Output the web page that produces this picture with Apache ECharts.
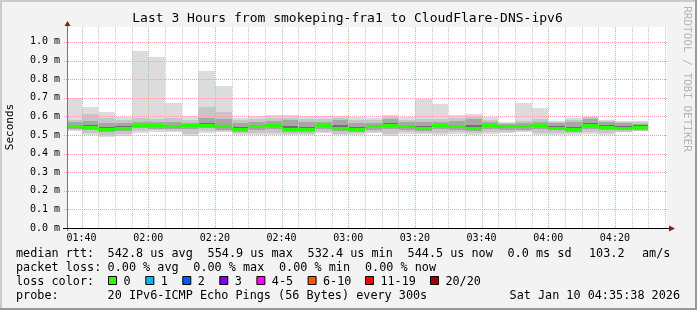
<!DOCTYPE html>
<html><head><meta charset="utf-8">
<script src="https://cdn.jsdelivr.net/npm/echarts@6/dist/echarts.min.js"></script>
<style>html,body{margin:0;padding:0;background:#f3f3f3}#c{width:697px;height:310px}</style>
</head><body><div id="c"></div><script>
// ---- data (values in milliseconds) ----
const bucketEnds = ["01:40","01:45","01:50","01:55","02:00","02:05","02:10","02:15","02:20","02:25",
  "02:30","02:35","02:40","02:45","02:50","02:55","03:00","03:05","03:10","03:15",
  "03:20","03:25","03:30","03:35","03:40","03:45","03:50","03:55","04:00","04:05",
  "04:10","04:15","04:20","04:25","04:30"];
const maxRtt = [0.700,0.652,0.625,0.595,0.953,0.921,0.674,0.600,0.846,0.765,
  0.591,0.600,0.609,0.605,0.600,0.600,0.600,0.595,0.591,0.605,
  0.595,0.695,0.667,0.605,0.614,0.595,0.570,0.674,0.647,0.577,
  0.591,0.598,0.580,0.577,0.574];
const p90 = [0.580,0.610,0.590,0.578,0.591,0.588,0.590,0.582,0.650,0.625,
  0.580,0.586,0.590,0.592,0.588,0.585,0.590,0.580,0.578,0.596,
  0.582,0.585,0.586,0.590,0.598,0.582,0.566,0.575,0.584,0.570,
  0.582,0.594,0.576,0.572,0.568];
const p75 = [0.568,0.576,0.566,0.565,0.572,0.570,0.572,0.566,0.590,0.585,
  0.562,0.570,0.574,0.578,0.570,0.572,0.578,0.562,0.564,0.586,
  0.568,0.570,0.572,0.575,0.585,0.568,0.560,0.565,0.570,0.562,
  0.572,0.588,0.570,0.564,0.560];
const p60 = [0.554,0.556,0.545,0.550,0.560,0.561,0.556,0.558,0.565,0.556,
  0.543,0.554,0.560,0.548,0.545,0.560,0.552,0.544,0.554,0.562,
  0.555,0.550,0.560,0.556,0.552,0.560,0.553,0.554,0.561,0.549,
  0.544,0.565,0.554,0.550,0.552];
const medianRtt = [0.546,0.545,0.534,0.540,0.552,0.552,0.546,0.552,0.555,0.546,
  0.534,0.546,0.552,0.534,0.533,0.552,0.540,0.534,0.546,0.552,
  0.546,0.540,0.552,0.546,0.540,0.552,0.546,0.546,0.553,0.540,
  0.534,0.552,0.545,0.540,0.5445];
const p40 = [0.538,0.537,0.527,0.533,0.545,0.545,0.539,0.545,0.548,0.538,
  0.527,0.538,0.544,0.526,0.525,0.544,0.532,0.527,0.538,0.544,
  0.538,0.532,0.544,0.538,0.532,0.544,0.538,0.538,0.545,0.533,
  0.527,0.545,0.537,0.533,0.537];
const p25 = [0.532,0.526,0.518,0.523,0.535,0.534,0.530,0.530,0.536,0.528,
  0.518,0.526,0.530,0.516,0.515,0.532,0.520,0.518,0.528,0.530,
  0.527,0.522,0.530,0.526,0.520,0.530,0.528,0.528,0.530,0.524,
  0.518,0.532,0.526,0.524,0.528];
const p10 = [0.526,0.510,0.500,0.505,0.522,0.524,0.522,0.505,0.522,0.520,
  0.508,0.512,0.512,0.507,0.507,0.518,0.507,0.508,0.518,0.505,
  0.514,0.512,0.512,0.514,0.508,0.516,0.518,0.520,0.510,0.512,
  0.508,0.515,0.512,0.518,0.522];
const minRtt = [0.520,0.498,0.487,0.492,0.511,0.515,0.516,0.492,0.511,0.516,
  0.498,0.502,0.498,0.498,0.502,0.511,0.498,0.498,0.511,0.492,
  0.505,0.505,0.502,0.505,0.498,0.505,0.511,0.516,0.498,0.502,
  0.502,0.505,0.502,0.516,0.520];

const majorTicks = ["01:40","02:00","02:20","02:40","03:00","03:20","03:40","04:00","04:20"];
const minorTicks = ["01:45","01:50","01:55","02:05","02:10","02:15","02:25","02:30","02:35",
  "02:45","02:50","02:55","03:05","03:10","03:15","03:25","03:30","03:35",
  "03:45","03:50","03:55","04:05","04:10","04:15","04:25","04:30","04:35"];
const yTicks = [0.0,0.1,0.2,0.3,0.4,0.5,0.6,0.7,0.8,0.9,1.0];
const startTime = "01:35:38", endTime = "04:35:38";
const stepSec = 300;

const titleText = "Last 3 Hours from smokeping-fra1 to CloudFlare-DNS-ipv6";
const legendRows = [
  [["median rtt:",16],["542.8 us avg",107.6],["554.9 us max",207.6],["532.4 us min",307.6],["544.5 us now",407.6],["0.0 ms sd",507.6],["103.2",589],["am/s",642]],
  [["packet loss:",16],["0.00 % avg",107.6],["0.00 % max",193.3],["0.00 % min",279],["0.00 % now",365]],
  [["loss color:",16]],
  [["probe:",16],["20 IPv6-ICMP Echo Pings (56 Bytes) every 300s",107.6]]
];
const lossLabels = ["0","1","2","3","4-5","6-10","11-19","20/20"];
const lossColors = ["#26ff00","#00b8ff","#0059ff","#7e00ff","#ff00ff","#ff5500","#ff0000","#a10000"];
const lossBoxX = [108,145.3,182.3,219.3,256.4,307.6,365,430];
const stampText = "Sat Jan 10 04:35:38 2026";

function toSec(s){const p=s.split(':').map(Number);return p[0]*3600+p[1]*60+(p[2]||0);}
function fmt(sec){const h=Math.floor(sec/3600),m=Math.round((sec%3600)/60);return String(h).padStart(2,'0')+':'+String(m).padStart(2,'0');}

const MONO = "'DejaVu Sans Mono', monospace";
const xMin = toSec(startTime), xMax = toSec(endTime);

function bandSeries(lo, hi, color){
  return {
    type:'custom', silent:true, z:2,
    data: bucketEnds.map((t,i)=>[toSec(t), lo[i], hi[i]]),
    encode:{x:0, y:[1,2]},
    renderItem:(params, api)=>{
      const end=api.value(0), l=api.value(1), h=api.value(2);
      const a=api.coord([end-stepSec,h]), b=api.coord([end,l]);
      const cs=params.coordSys;
      const x0=Math.round(Math.max(a[0],cs.x)), x1=Math.round(Math.min(b[0],cs.x+cs.width));
      const y0=Math.round(a[1]), y1=Math.round(b[1]);
      return {type:'rect', shape:{x:x0,y:y0,width:x1-x0,height:Math.max(1,y1-y0)}, style:{fill:color}};
    }
  };
}
function vGrid(list, color, z){
  return {
    type:'custom', silent:true, z:z,
    data: list.map(t=>[toSec(t), 0]),
    encode:{x:0,y:1},
    renderItem:(params, api)=>{
      const cs=params.coordSys;
      const x=Math.round(api.coord([api.value(0),0])[0])+0.5;
      return {type:'line', shape:{x1:x,y1:cs.y,x2:x,y2:cs.y+cs.height}, style:{stroke:color,lineWidth:1,lineDash:[1,1]}};
    }
  };
}
const hGrid = {
  type:'custom', silent:true, z:4,
  data: yTicks.filter(v=>v>0).map(v=>[xMin, v]),
  encode:{x:0,y:1},
  renderItem:(params, api)=>{
    const cs=params.coordSys;
    const y=Math.round(api.coord([xMin,api.value(1)])[1])+0.5;
    return {type:'line', shape:{x1:cs.x-3,y1:y,x2:cs.x+cs.width,y2:y}, style:{stroke:'#f2a0a0',lineWidth:1,lineDash:[1,1]}};
  }
};
const medianSeries = {
  type:'custom', silent:true, z:6,
  data: bucketEnds.map((t,i)=>[toSec(t), medianRtt[i]]),
  encode:{x:0,y:1},
  renderItem:(params, api)=>{
    const end=api.value(0), m=api.value(1);
    const a=api.coord([end-stepSec,m]), b=api.coord([end,m]);
    const cs=params.coordSys;
    const x0=Math.round(Math.max(a[0],cs.x)), x1=Math.round(Math.min(b[0],cs.x+cs.width));
    const y=Math.round(a[1]);
    return {type:'rect', shape:{x:x0,y:y-1,width:x1-x0,height:3}, style:{fill:lossColors[0]}};
  }
};

const graphics = [
  {type:'rect', shape:{x:0,y:0,width:697,height:2}, style:{fill:'#cbcbcb'}, silent:true},
  {type:'rect', shape:{x:0,y:0,width:2,height:310}, style:{fill:'#cbcbcb'}, silent:true},
  {type:'rect', shape:{x:695,y:0,width:2,height:310}, style:{fill:'#999999'}, silent:true},
  {type:'rect', shape:{x:0,y:308,width:697,height:2}, style:{fill:'#999999'}, silent:true},
  {type:'text', x:347.5, y:19, style:{text:titleText, font:"13px "+MONO, fill:'#000', align:'center', verticalAlign:'middle'}},
  {type:'text', x:10, y:127, rotation:Math.PI/2, style:{text:'Seconds', font:"11px "+MONO, fill:'#000', align:'center', verticalAlign:'middle'}},
  {type:'text', x:687, y:79, rotation:-Math.PI/2, style:{text:'RRDTOOL / TOBI OETIKER', font:"11px "+MONO, fill:'#b4b4b4', align:'center', verticalAlign:'middle'}},
  // axis extensions and arrows
  {type:'line', shape:{x1:67.5,y1:25,x2:67.5,y2:231}, style:{stroke:'#777',lineWidth:1}, z:20},
  {type:'line', shape:{x1:63,y1:228.5,x2:670,y2:228.5}, style:{stroke:'#000',lineWidth:1}, z:20},
  {type:'polygon', shape:{points:[[67.5,21],[64.5,26],[70.5,26]]}, style:{fill:'#8b1a1a'}, z:21},
  {type:'polygon', shape:{points:[[675,228.5],[669,225.5],[669,231.5]]}, style:{fill:'#8b1a1a'}, z:21}
];
const rowY = [254.3,268.3,282.3,296.3];
legendRows.forEach((row,ri)=>row.forEach(([t,x])=>{
  graphics.push({type:'text', x:x, y:rowY[ri], style:{text:t, font:"11.8px "+MONO, fill:'#000', align:'left', verticalAlign:'middle'}});
}));
lossLabels.forEach((lab,i)=>{
  graphics.push({type:'rect', shape:{x:lossBoxX[i]+0.5,y:276.5,width:8,height:8}, style:{fill:lossColors[i],stroke:'#000',lineWidth:1}});
  graphics.push({type:'text', x:lossBoxX[i]+15.4, y:rowY[2], style:{text:lab, font:"11.8px "+MONO, fill:'#000', align:'left', verticalAlign:'middle'}});
});
graphics.push({type:'text', x:680, y:rowY[3], style:{text:stampText, font:"11.8px "+MONO, fill:'#000', align:'right', verticalAlign:'middle'}});

const chart = echarts.init(document.getElementById('c'), null, {renderer:'canvas'});
chart.setOption({
  animation:false,
  backgroundColor:'#f3f3f3',
  grid:{left:67, right:30, top:27, bottom:82, show:true, backgroundColor:'#ffffff', borderWidth:0, containLabel:false},
  xAxis:{type:'value', min:xMin, max:xMax,
    axisLine:{show:false}, axisTick:{show:false}, splitLine:{show:false},
    axisLabel:{customValues:majorTicks.map(toSec), formatter:v=>fmt(v), fontFamily:MONO, fontSize:10, color:'#000', margin:5}
  },
  yAxis:{type:'value', min:0, max:1.08,
    axisLine:{show:false}, axisTick:{show:false}, splitLine:{show:false},
    axisLabel:{customValues:yTicks, formatter:v=>v.toFixed(1)+' m', fontFamily:MONO, fontSize:10, color:'#000', margin:7}
  },
  series:[
    bandSeries(minRtt, maxRtt, '#dcdcdc'),
    bandSeries(p10, p90, '#c6c6c6'),
    bandSeries(p25, p75, '#a6a6a6'),
    bandSeries(p40, p60, '#707070'),
    vGrid(minorTicks, '#c8c8c8', 4),
    vGrid(majorTicks, '#f2a0a0', 5),
    hGrid,
    medianSeries
  ],
  graphic: graphics
});
</script></body></html>
